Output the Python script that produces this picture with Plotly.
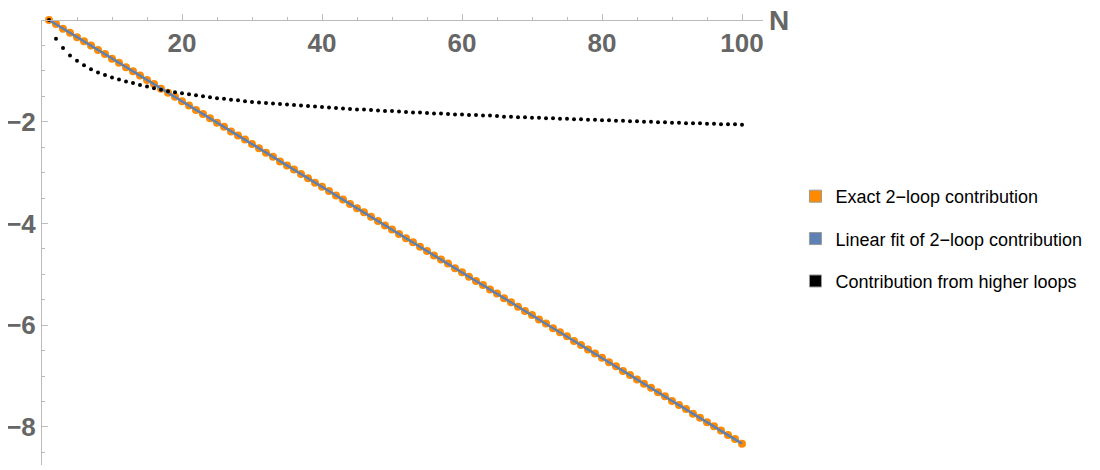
import plotly.graph_objects as go

N = list(range(1, 101))

exact_2loop = [
    0.00, -0.08, -0.17, -0.25, -0.34, -0.42, -0.50, -0.59, -0.67, -0.76,
    -0.84, -0.93, -1.01, -1.09, -1.18, -1.26, -1.35, -1.43, -1.51, -1.60,
    -1.68, -1.77, -1.85, -1.93, -2.02, -2.10, -2.19, -2.27, -2.35, -2.44,
    -2.52, -2.61, -2.69, -2.78, -2.86, -2.94, -3.03, -3.11, -3.20, -3.28,
    -3.36, -3.45, -3.53, -3.62, -3.70, -3.78, -3.87, -3.95, -4.04, -4.12,
    -4.21, -4.29, -4.37, -4.46, -4.54, -4.63, -4.71, -4.79, -4.88, -4.96,
    -5.05, -5.13, -5.21, -5.30, -5.38, -5.47, -5.55, -5.64, -5.72, -5.80,
    -5.89, -5.97, -6.06, -6.14, -6.22, -6.31, -6.39, -6.48, -6.56, -6.64,
    -6.73, -6.81, -6.90, -6.98, -7.07, -7.15, -7.23, -7.32, -7.40, -7.49,
    -7.57, -7.65, -7.74, -7.82, -7.91, -7.99, -8.07, -8.16, -8.24, -8.33,
]

fit_n = [1, 100]
fit_vals = [0.00, -8.33]

higher_loops = [
    0.00, -0.37, -0.55, -0.70, -0.80, -0.89, -0.97, -1.03, -1.08, -1.13,
    -1.17, -1.21, -1.24, -1.28, -1.31, -1.34, -1.37, -1.40, -1.42, -1.44,
    -1.46, -1.48, -1.50, -1.52, -1.54, -1.55, -1.57, -1.58, -1.60, -1.61,
    -1.62, -1.63, -1.64, -1.65, -1.66, -1.67, -1.68, -1.69, -1.70, -1.71,
    -1.72, -1.73, -1.74, -1.75, -1.76, -1.76, -1.77, -1.78, -1.79, -1.79,
    -1.80, -1.81, -1.82, -1.82, -1.83, -1.84, -1.84, -1.85, -1.86, -1.86,
    -1.87, -1.87, -1.88, -1.88, -1.89, -1.90, -1.90, -1.91, -1.91, -1.92,
    -1.92, -1.93, -1.93, -1.94, -1.94, -1.95, -1.95, -1.96, -1.96, -1.97,
    -1.97, -1.98, -1.98, -1.99, -1.99, -2.00, -2.00, -2.01, -2.01, -2.02,
    -2.02, -2.03, -2.03, -2.03, -2.04, -2.04, -2.05, -2.05, -2.05, -2.06,
]

x_ticks = [20, 40, 60, 80, 100]
y_ticks = [-2, -4, -6, -8]

ORANGE = '#FF8A00'
BLUE = '#5E81B5'

fig = go.Figure()

fig.add_trace(go.Scatter(x=N, y=exact_2loop, mode='markers', showlegend=False,
                         marker=dict(size=8, color=ORANGE), cliponaxis=False))
fig.add_trace(go.Scatter(x=fit_n, y=fit_vals, mode='lines', showlegend=False,
                         line=dict(color=BLUE, width=2.5), cliponaxis=False))
fig.add_trace(go.Scatter(x=N, y=higher_loops, mode='markers', showlegend=False,
                         marker=dict(size=4, color='black'), cliponaxis=False))

# legend entries with square swatches
for name, col in [('Exact 2\u2212loop contribution', ORANGE),
                  ('Linear fit of 2\u2212loop contribution', BLUE),
                  ('Contribution from higher loops', 'black')]:
    fig.add_trace(go.Scatter(x=[None], y=[None], mode='markers', name=name, legendgroup=name,
                             marker=dict(symbol='square', size=12, color=col,
                                         line=dict(color='#999', width=1))))

tick_font = dict(family='Liberation Sans, Arial', size=26, color='#666666', weight='bold')

fig.update_layout(
    width=1100, height=470,
    margin=dict(l=34, r=345, t=12, b=13),
    plot_bgcolor='white', paper_bgcolor='white',
    xaxis=dict(range=[0, 103], anchor='free', position=1, side='bottom',
               tickvals=x_ticks, ticks='inside', ticklen=6, tickcolor='#bbb',
               minor=dict(dtick=5, ticks='inside', ticklen=3, tickcolor='#bbb'),
               showline=True, linecolor='#bbb', linewidth=1, automargin=False,
               showgrid=False, zeroline=False, tickfont=tick_font),
    yaxis=dict(range=[-8.75, 0], tickvals=y_ticks, ticks='inside', ticklen=6, tickcolor='#bbb',
               minor=dict(dtick=0.5, ticks='inside', ticklen=3, tickcolor='#bbb'),
               showline=True, linecolor='#bbb', linewidth=1, automargin=False,
               ticklabelstandoff=0,
               showgrid=False, zeroline=False, tickfont=tick_font),
    legend=dict(x=1.045, y=0.645, xanchor='left', yanchor='top',
                font=dict(family='Liberation Sans, Arial', size=18, color='black'),
                traceorder='grouped', tracegroupgap=16, bgcolor='rgba(0,0,0,0)'),
    annotations=[dict(text='<b>N</b>', xref='paper', yref='paper', x=1.005, y=1.0,
                      xanchor='left', yanchor='middle', showarrow=False,
                      font=dict(family='Liberation Sans, Arial', size=28, color='#666666'))],
)

fig.write_html("out.html")
